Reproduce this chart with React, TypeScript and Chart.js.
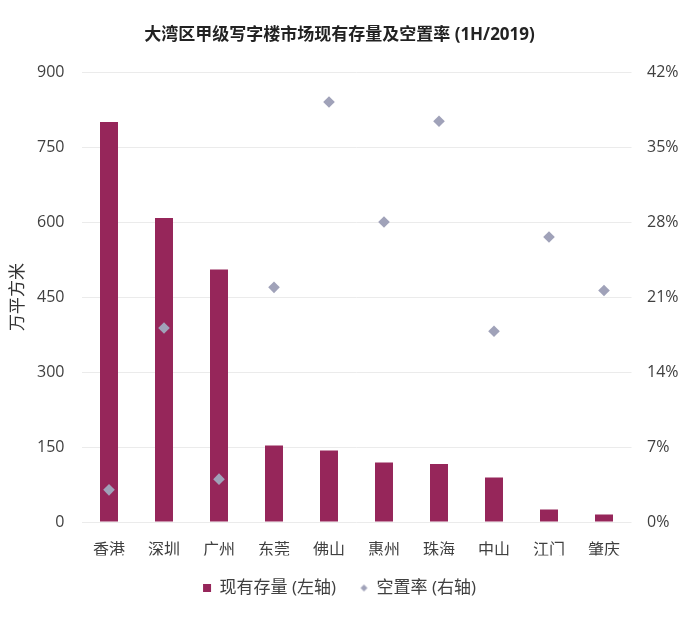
import React, { useEffect, useRef } from "react";
import { Chart, registerables } from "chart.js";

Chart.register(...registerables);

const titleText = "大湾区甲级写字楼市场现有存量及空置率 (1H/2019)";
const categories = ["香港", "深圳", "广州", "东莞", "佛山", "惠州", "珠海", "中山", "江门", "肇庆"];
const stockValues = [800, 608, 505, 153, 143, 119, 116, 89, 25, 15];
const vacancyValues = [3.0, 18.1, 4.0, 21.9, 39.2, 28.0, 37.4, 17.8, 26.6, 21.6];
const leftTicks = [0, 150, 300, 450, 600, 750, 900];
const rightTicks = [0, 7, 14, 21, 28, 35, 42];
const stockLabel = "现有存量 (左轴)";
const vacancyLabel = "空置率 (右轴)";
const yTitle = "万平方米";

const BAR_COLOR = "#96265a";
const DIAMOND_COLOR = "#a0a2b9";
const TEXT_COLOR = "#404040";
const GRID_COLOR = "#ebebeb";
const FONT = '"Open Sans", "Noto Sans CJK SC", sans-serif';

function makeDiamond(color: string, half: number): HTMLCanvasElement {
  const c = document.createElement("canvas");
  const s = Math.ceil(half * 2) + 2;
  c.width = s;
  c.height = s;
  const ctx = c.getContext("2d")!;
  ctx.fillStyle = color;
  ctx.beginPath();
  ctx.moveTo(s / 2, s / 2 - half);
  ctx.lineTo(s / 2 + half, s / 2);
  ctx.lineTo(s / 2, s / 2 + half);
  ctx.lineTo(s / 2 - half, s / 2);
  ctx.closePath();
  ctx.fill();
  return c;
}

export default function App() {
  const ref = useRef<HTMLCanvasElement | null>(null);

  useEffect(() => {
    if (!ref.current) return;
    const diamondIcon = makeDiamond(DIAMOND_COLOR, 3.5);
    const chart = new Chart(ref.current, {
      type: "bar",
      data: {
        labels: categories,
        datasets: [
          {
            type: "bar",
            label: stockLabel,
            data: stockValues,
            backgroundColor: BAR_COLOR,
            borderWidth: 0,
            categoryPercentage: 1,
            barPercentage: 0.327,
            yAxisID: "y",
            order: 2,
          } as any,
          {
            type: "line",
            label: vacancyLabel,
            data: vacancyValues,
            showLine: false,
            pointStyle: "rectRot",
            pointRadius: 5.8,
            pointHoverRadius: 5.8,
            pointBackgroundColor: DIAMOND_COLOR,
            pointBorderColor: DIAMOND_COLOR,
            pointBorderWidth: 0,
            backgroundColor: DIAMOND_COLOR,
            borderColor: DIAMOND_COLOR,
            yAxisID: "y1",
            order: 1,
          } as any,
        ],
      },
      options: {
        responsive: false,
        animation: false,
        layout: { padding: { left: 0, right: 21, top: 0, bottom: 11.5 } },
        plugins: {
          title: {
            display: true,
            text: titleText,
            color: "#222222",
            font: { family: FONT, size: 17, weight: "bold" },
            padding: { top: 25, bottom: 26.6 },
          },
          legend: {
            display: true,
            position: "bottom",
            labels: {
              usePointStyle: true,
              boxWidth: 8,
              boxHeight: 8,
              padding: 24,
              color: TEXT_COLOR,
              font: { family: FONT, size: 17 },
              sort: (a: any, b: any) => a.datasetIndex - b.datasetIndex,
              generateLabels: (c: any) => {
                const items = Chart.defaults.plugins.legend.labels.generateLabels(c);
                return items.map((it: any) => {
                  if (it.datasetIndex === 1) {
                    return { ...it, pointStyle: diamondIcon };
                  }
                  return { ...it, pointStyle: "rect", fillStyle: BAR_COLOR, strokeStyle: BAR_COLOR, lineWidth: 0 };
                });
              },
            },
          },
          tooltip: { enabled: false },
        },
        scales: {
          x: {
            offset: true,
            grid: { display: false, drawTicks: false },
            border: { display: false },
            ticks: {
              color: TEXT_COLOR,
              font: { family: FONT, size: 16 },
              padding: 19,
              maxRotation: 0,
            },
            afterFit: (scale: any) => {
              scale.height = 33.5;
            },
          },
          y: {
            position: "left",
            min: 0,
            max: 900,
            grid: { color: GRID_COLOR, drawTicks: false, lineWidth: 1 },
            border: { display: false },
            afterBuildTicks: (axis: any) => {
              axis.ticks = leftTicks.map((v) => ({ value: v }));
            },
            ticks: {
              color: TEXT_COLOR,
              font: { family: FONT, size: 16 },
              padding: 17,
            },
            title: {
              display: true,
              text: yTitle,
              color: "#333333",
              font: { family: FONT, size: 17 },
              padding: { top: 8, bottom: 0 },
            },
            afterFit: (scale: any) => {
              scale.width = 81.5;
            },
          },
          y1: {
            position: "right",
            min: 0,
            max: 42,
            grid: { drawOnChartArea: false, drawTicks: false },
            border: { display: false },
            afterBuildTicks: (axis: any) => {
              axis.ticks = rightTicks.map((v) => ({ value: v }));
            },
            ticks: {
              color: TEXT_COLOR,
              font: { family: FONT, size: 16 },
              padding: 15.5,
              callback: (v: any) => `${v}%`,
            },
            afterFit: (scale: any) => {
              scale.width = 47.5;
            },
          },
        },
      },
    });
    return () => chart.destroy();
  }, []);

  return (
    <div style={{ position: "absolute", left: 0, top: 0, width: 700, height: 618, background: "#ffffff" }}>
      <canvas ref={ref} width={700} height={618} style={{ display: "block" }} />
    </div>
  );
}
